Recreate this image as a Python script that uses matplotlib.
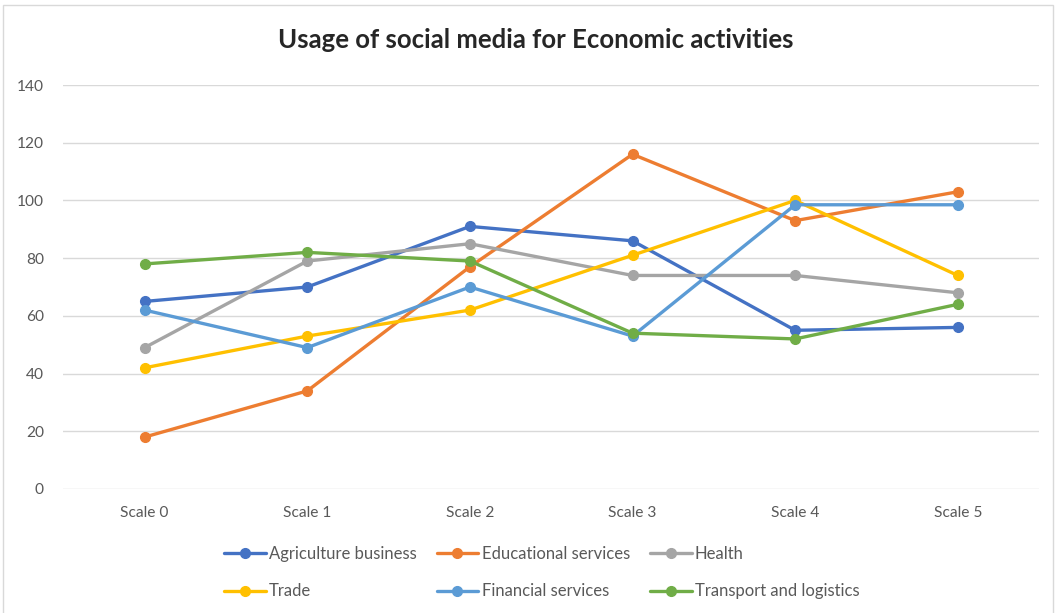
import matplotlib.pyplot as plt
from matplotlib.patches import Rectangle

categories = ["Scale 0", "Scale 1", "Scale 2", "Scale 3", "Scale 4", "Scale 5"]

agriculture = [65, 70, 91, 86, 55, 56]
educational = [18, 34, 77, 116, 93, 103]
health = [49, 79, 85, 74, 74, 68]
trade = [42, 53, 62, 81, 100, 74]
financial = [62, 49, 70, 53, 98.5, 98.5]
transport = [78, 82, 79, 54, 52, 64]

series = [
    ("Agriculture business", agriculture, "#4472C4"),
    ("Educational services", educational, "#ED7D31"),
    ("Health", health, "#A5A5A5"),
    ("Trade", trade, "#FFC000"),
    ("Financial services", financial, "#5B9BD5"),
    ("Transport and logistics", transport, "#70AD47"),
]

plt.rcParams['font.family'] = ['Lato', 'DejaVu Sans']

fig = plt.figure(figsize=(10.56, 6.13), dpi=100)
ax = fig.add_axes([0.060, 0.2023, 0.924, 0.659])

x = list(range(len(categories)))
lines = []
for name, vals, col in series:
    ln, = ax.plot(x, vals, color=col, lw=2.4, marker='o', markersize=7,
                  label=name, solid_capstyle='round', solid_joinstyle='round')
    lines.append(ln)

ax.set_xlim(-0.5, len(categories) - 0.5)
ax.set_ylim(0, 140)
ax.set_yticks(range(0, 141, 20))
ax.set_xticks(x)
ax.set_xticklabels(categories)
ax.grid(axis='y', color='#D9D9D9', lw=1)
ax.set_axisbelow(True)
for s in ax.spines.values():
    s.set_visible(False)
ax.tick_params(axis='both', length=0, labelsize=11.2, labelcolor='#595959')
ax.tick_params(axis='y', pad=14)
ax.tick_params(axis='x', pad=12)

fig.text(0.5076, 0.934, "Usage of social media for Economic activities",
         ha='center', va='center', fontsize=18.5, fontweight='bold', color='#262626')

# legend is filled column by column, so reorder to get Excel's row order
order = [0, 3, 1, 4, 2, 5]
fig.legend([lines[i] for i in order], [series[i][0] for i in order],
           loc='center', bbox_to_anchor=(0.513, 0.066), ncol=3, frameon=False,
           fontsize=12, handlelength=2.5, handletextpad=0.2,
           columnspacing=1.2, labelspacing=1.3, labelcolor='#595959')

fig.patches.append(Rectangle((0.003, -0.01), 0.994, 1.002, transform=fig.transFigure,
                             fill=False, edgecolor='#D9D9D9', lw=1))

fig.savefig("out.png", dpi=100)
